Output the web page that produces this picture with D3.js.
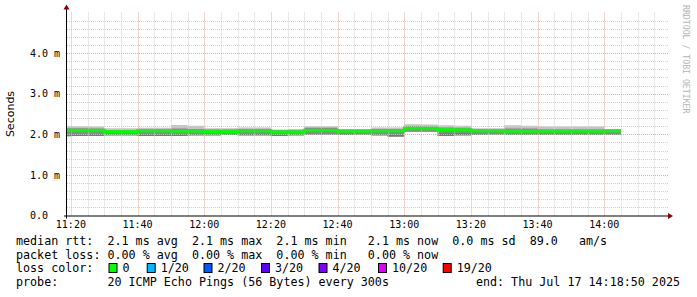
<!DOCTYPE html>
<html>
<head>
<meta charset="utf-8">
<script src="https://cdnjs.cloudflare.com/ajax/libs/d3/7.8.5/d3.min.js"></script>
<style>
  html, body { margin: 0; padding: 0; background: #fff; }
  svg { display: block; }
  text { white-space: pre; }
  .mono { font-family: "DejaVu Sans Mono", monospace; }
</style>
</head>
<body>
<div id="chart"></div>
<script>
// SmokePing latency graph (3 hours)

// data: 5 minute buckets
const bucketStarts = ['11:15','11:20','11:25','11:30','11:35','11:40','11:45','11:50','11:55','12:00',
  '12:05','12:10','12:15','12:20','12:25','12:30','12:35','12:40','12:45','12:50',
  '12:55','13:00','13:05','13:10','13:15','13:20','13:25','13:30','13:35','13:40',
  '13:45','13:50','13:55','14:00'];
const medianMs = [2.10,2.10,2.10,2.07,2.07,2.09,2.09,2.08,2.08,2.07,
  2.07,2.09,2.09,2.06,2.06,2.10,2.10,2.08,2.08,2.09,
  2.09,2.15,2.15,2.12,2.11,2.09,2.09,2.08,2.08,2.08,
  2.08,2.08,2.08,2.09];
const minMs = [1.95,1.96,1.96,1.97,1.97,1.96,1.96,1.96,1.97,1.97,
  1.98,1.97,1.97,1.96,1.97,1.99,1.99,1.98,1.99,1.97,
  1.94,2.06,2.06,1.96,1.97,1.98,1.99,1.98,1.98,1.98,
  1.98,1.98,1.98,1.98];
const maxMs = [2.20,2.20,2.19,2.15,2.15,2.16,2.16,2.23,2.21,2.15,
  2.15,2.17,2.17,2.12,2.13,2.20,2.20,2.13,2.13,2.17,
  2.17,2.25,2.24,2.22,2.21,2.15,2.15,2.22,2.21,2.19,
  2.19,2.19,2.19,2.13];
const q25Ms = [1.99,2.00,2.00,1.99,1.99,2.00,2.00,2.00,2.00,1.99,
  2.00,2.01,2.01,1.98,1.99,2.02,2.02,2.01,2.01,2.00,
  1.99,2.09,2.09,2.04,2.04,2.00,2.01,2.00,2.00,2.00,
  2.00,2.00,2.00,2.00];
const q75Ms = [2.15,2.15,2.14,2.10,2.10,2.12,2.12,2.14,2.13,2.12,
  2.12,2.13,2.13,2.10,2.10,2.16,2.16,2.11,2.11,2.13,
  2.13,2.20,2.19,2.17,2.16,2.12,2.12,2.14,2.14,2.12,
  2.12,2.12,2.12,2.11];

const yTicks = [0, 1, 2, 3, 4];
const yTickLabels = ['0.0', '1.0 m', '2.0 m', '3.0 m', '4.0 m'];

const legendRows = [
  'median rtt:  2.1 ms avg  2.1 ms max  2.1 ms min   2.1 ms now  0.0 ms sd  89.0   am/s',
  'packet loss: 0.00 % avg  0.00 % max  0.00 % min   0.00 % now'
];
const lossLabels = ['0', '1/20', '2/20', '3/20', '4/20', '10/20', '19/20'];
const lossColors = ['#00ff00', '#00b8ff', '#0059ff', '#5e00ff', '#7e00ff', '#dd00ff', '#ff0000'];
const probeText = 'probe:       20 ICMP Echo Pings (56 Bytes) every 300s';
const endText = 'end: Thu Jul 17 14:18:50 2025';

const width = 697, height = 297;
const plot = { left: 67, right: 667, top: 12.5, bottom: 215.5 };

const parse = d3.timeParse('%Y-%m-%d %H:%M:%S');
const day = '2025-07-17 ';
const tStart = parse(day + '11:18:50');
const tEnd = parse(day + '14:18:50');

const data = bucketStarts.map((s, i) => ({
  t: parse(day + s + ':00'),
  med: medianMs[i], lo: minMs[i], hi: maxMs[i], q1: q25Ms[i], q3: q75Ms[i]
}));
// last point closes the final step
const last = data[data.length - 1];
const stepData = data.concat([Object.assign({}, last, { t: d3.timeMinute.offset(last.t, 5) })]);

const x = d3.scaleTime().domain([tStart, tEnd]).range([plot.left, plot.right]);
const y = d3.scaleLinear().domain([0, 5]).range([plot.bottom, plot.top]);

const svg = d3.select('#chart').append('svg')
  .attr('width', width).attr('height', height);

svg.append('rect').attr('width', width).attr('height', height).attr('fill', '#fff');

const defs = svg.append('defs');
defs.append('clipPath').attr('id', 'plot-clip')
  .append('rect')
  .attr('x', plot.left).attr('y', plot.top)
  .attr('width', plot.right - plot.left).attr('height', plot.bottom - plot.top);

// smoke
const smoke = svg.append('g').attr('clip-path', 'url(#plot-clip)');
const band = (lo, hi) => d3.area()
  .x(d => x(d.t)).y0(d => y(d[lo])).y1(d => y(d[hi]))
  .curve(d3.curveStepAfter);

smoke.append('path').attr('d', band('lo', 'hi')(stepData)).attr('fill', '#c4c4c4');
smoke.append('path').attr('d', band('q1', 'q3')(stepData)).attr('fill', '#8a8a8a');
smoke.append('path').attr('d', band('lo', 'q1')(stepData)).attr('fill', '#4a4a4a').attr('opacity', 0.6);

// grid
const grid = svg.append('g');
const minorX = d3.timeMinute.every(5).range(tStart, tEnd);
const majorX = d3.timeMinute.every(20).range(tStart, tEnd);
const minorY = d3.range(0.2, 5.01, 0.2).filter(v => Math.abs(v - Math.round(v)) > 0.01);

grid.selectAll('.vminor').data(minorX.filter(t => t.getMinutes() % 20 !== 0)).enter()
  .append('line')
  .attr('x1', d => Math.round(x(d)) + 0.5).attr('x2', d => Math.round(x(d)) + 0.5)
  .attr('y1', plot.top).attr('y2', plot.bottom)
  .attr('stroke', '#d0d0d0').attr('stroke-dasharray', '1,1');

grid.selectAll('.hminor').data(minorY).enter()
  .append('line')
  .attr('x1', plot.left).attr('x2', plot.right + 1)
  .attr('y1', d => Math.round(y(d)) + 0.5).attr('y2', d => Math.round(y(d)) + 0.5)
  .attr('stroke', '#d0d0d0').attr('stroke-dasharray', '1,1');

grid.selectAll('.vmajor').data(majorX).enter()
  .append('line')
  .attr('x1', d => Math.round(x(d)) + 0.5).attr('x2', d => Math.round(x(d)) + 0.5)
  .attr('y1', plot.top).attr('y2', plot.bottom)
  .attr('stroke', '#eaa8a8').attr('stroke-dasharray', '1,1');

grid.selectAll('.hmajor').data(yTicks.slice(1)).enter()
  .append('line')
  .attr('x1', plot.left).attr('x2', plot.right + 1)
  .attr('y1', d => Math.round(y(d)) + 0.5).attr('y2', d => Math.round(y(d)) + 0.5)
  .attr('stroke', '#eaa8a8').attr('stroke-dasharray', '1,1');

// median line
svg.append('path')
  .attr('clip-path', 'url(#plot-clip)')
  .attr('d', d3.line().x(d => x(d.t)).y(d => y(d.med)).curve(d3.curveStepAfter)(stepData))
  .attr('fill', 'none')
  .attr('stroke', lossColors[0])
  .attr('stroke-width', 3);

// axes
const axisColor = '#000';
svg.append('line')
  .attr('x1', plot.left - 0.5).attr('x2', plot.left - 0.5)
  .attr('y1', plot.bottom + 3).attr('y2', plot.top - 4)
  .attr('stroke', axisColor);
svg.append('line')
  .attr('x1', plot.left - 3).attr('x2', plot.right + 4)
  .attr('y1', plot.bottom + 0.5).attr('y2', plot.bottom + 0.5)
  .attr('stroke', axisColor);
svg.append('path')
  .attr('d', `M${plot.left - 3.5},${plot.top - 3} L${plot.left - 0.5},${plot.top - 8} L${plot.left + 2.5},${plot.top - 3} Z`)
  .attr('fill', '#8b0000');
svg.append('path')
  .attr('d', `M${plot.right + 1},${plot.bottom - 2.5} L${plot.right + 6},${plot.bottom + 0.5} L${plot.right + 1},${plot.bottom + 3.5} Z`)
  .attr('fill', '#8b0000');

// y tick labels
svg.selectAll('.ylab').data(yTicks).enter()
  .append('text')
  .attr('class', 'mono')
  .attr('x', 30)
  .attr('y', d => y(d) + 3.6)
  .attr('font-size', '10px')
  .attr('fill', '#000')
  .text((d, i) => yTickLabels[i]);

// x tick labels
svg.selectAll('.xlab').data(majorX).enter()
  .append('text')
  .attr('class', 'mono')
  .attr('x', d => x(d))
  .attr('y', 228)
  .attr('font-size', '10px')
  .attr('text-anchor', 'middle')
  .attr('fill', '#000')
  .text(d3.timeFormat('%H:%M'));

// axis title
svg.append('text')
  .attr('transform', `translate(14,${(plot.top + plot.bottom) / 2}) rotate(-90)`)
  .attr('text-anchor', 'middle')
  .attr('font-family', '"DejaVu Sans", sans-serif')
  .attr('font-size', '11px')
  .attr('fill', '#000')
  .text('Seconds');

// watermark
svg.append('text')
  .attr('class', 'mono')
  .attr('transform', 'translate(683,5) rotate(90)')
  .attr('font-size', '8.2px')
  .attr('fill', '#b4b4b4')
  .text('RRDTOOL / TOBI OETIKER');

// legend
const legend = svg.append('g').attr('class', 'mono').attr('font-size', '11.7px').attr('fill', '#000');
const rowY = [245, 258.7, 272.4, 286];
const addText = (xPos, yPos, str) => legend.append('text')
  .attr('x', xPos).attr('y', yPos)
  .attr('xml:space', 'preserve')
  .style('white-space', 'pre')
  .text(str);

legendRows.forEach((row, i) => addText(16, rowY[i], row));
addText(16, rowY[2], 'loss color:');
const boxX = [108.5, 146.7, 203.5, 261, 318.5, 378, 442.7];
lossLabels.forEach((lab, i) => {
  legend.append('rect')
    .attr('x', boxX[i] + 0.5).attr('y', 263.5)
    .attr('width', 8).attr('height', 9)
    .attr('fill', lossColors[i]).attr('stroke', '#000');
  addText(boxX[i] + 14, rowY[2], lab);
});
addText(16, rowY[3], probeText);
addText(680, rowY[3], endText).attr('text-anchor', 'end');
</script>
</body>
</html>
